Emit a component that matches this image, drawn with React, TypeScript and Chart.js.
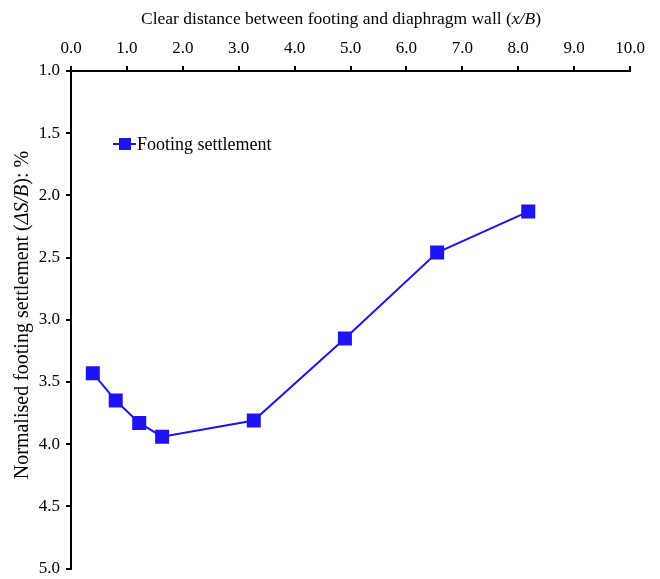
import React, { useEffect, useRef } from "react";
import { Chart, registerables } from "chart.js";

Chart.register(...registerables);

const xValues = [0.39, 0.8, 1.22, 1.63, 3.27, 4.9, 6.55, 8.18];
const settlement = [3.43, 3.65, 3.83, 3.94, 3.81, 3.15, 2.46, 2.13];
const seriesLabel = "Footing settlement";
const xTitleParts = [
  { t: "Clear distance between footing and diaphragm wall (", i: false },
  { t: "x/B", i: true },
  { t: ")", i: false },
];
const yTitleParts = [
  { t: "Normalised footing settlement (", i: false },
  { t: "\u0394S/B", i: true },
  { t: "): %", i: false },
];

const BLUE = "#1E14F2";
const FONT = "'Liberation Serif', 'Times New Roman', serif";

function drawRich(ctx: CanvasRenderingContext2D, parts: { t: string; i: boolean }[], size: number) {
  const fontFor = (i: boolean) => `${i ? "italic " : ""}${size}px ${FONT}`;
  let total = 0;
  for (const p of parts) {
    ctx.font = fontFor(p.i);
    total += ctx.measureText(p.t).width;
  }
  let x = -total / 2;
  for (const p of parts) {
    ctx.font = fontFor(p.i);
    ctx.fillText(p.t, x, 0);
    x += ctx.measureText(p.t).width;
  }
}

const decorPlugin = {
  id: "decor",
  afterDraw(chart: any) {
    const ctx: CanvasRenderingContext2D = chart.ctx;
    const area = chart.chartArea;
    ctx.save();
    ctx.fillStyle = "#000";
    ctx.textBaseline = "middle";
    ctx.textAlign = "left";
    // x title
    ctx.save();
    ctx.translate(341, 19);
    drawRich(ctx, xTitleParts, 17.5);
    ctx.restore();
    // y title
    ctx.save();
    ctx.translate(23, 315);
    ctx.rotate(-Math.PI / 2);
    drawRich(ctx, yTitleParts, 20);
    ctx.restore();
    // legend
    const lx = area.left + 42;
    const ly = area.top + 73;
    ctx.strokeStyle = BLUE;
    ctx.lineWidth = 2;
    ctx.beginPath();
    ctx.moveTo(lx, ly);
    ctx.lineTo(lx + 23, ly);
    ctx.stroke();
    ctx.fillStyle = BLUE;
    ctx.fillRect(lx + 6, ly - 6, 12, 12);
    ctx.fillStyle = "#000";
    ctx.font = `18px ${FONT}`;
    ctx.fillText(seriesLabel, lx + 24, ly + 1);
    ctx.restore();
  },
};

export default function App() {
  const ref = useRef<HTMLCanvasElement>(null);
  useEffect(() => {
    if (!ref.current) return;
    const chart = new Chart(ref.current, {
      type: "scatter",
      data: {
        datasets: [
          {
            label: seriesLabel,
            data: xValues.map((x, i) => ({ x, y: settlement[i] })),
            showLine: true,
            borderColor: BLUE,
            backgroundColor: BLUE,
            borderWidth: 2,
            pointStyle: "rect",
            pointRadius: 8.5,
            pointHoverRadius: 8.5,
          },
        ],
      },
      options: {
        animation: false,
        responsive: false,
        maintainAspectRatio: false,
        layout: { padding: { left: 0, top: 0, right: 30, bottom: 10 } },
        plugins: { legend: { display: false }, tooltip: { enabled: false } },
        scales: {
          x: {
            type: "linear",
            position: "top",
            min: 0,
            max: 10,
            ticks: {
              stepSize: 1,
              color: "#000",
              font: { family: FONT, size: 17 },
              padding: 7,
              callback: (v: any) => Number(v).toFixed(1),
            },
            grid: { drawOnChartArea: false, drawTicks: true, tickLength: 5, color: "#000", lineWidth: 2 },
            border: { display: true, color: "#000", width: 2 },
            afterFit: (s: any) => {
              s.height = 71;
              s.paddingLeft = 0;
              s.paddingRight = 0;
            },
          },
          y: {
            type: "linear",
            reverse: true,
            min: 1,
            max: 5,
            ticks: {
              stepSize: 0.5,
              color: "#000",
              font: { family: FONT, size: 17 },
              padding: 6,
              callback: (v: any) => Number(v).toFixed(1),
            },
            grid: { drawOnChartArea: false, drawTicks: true, tickLength: 5, color: "#000", lineWidth: 2 },
            border: { display: true, color: "#000", width: 2 },
            afterFit: (s: any) => {
              s.width = 71;
              s.paddingTop = 0;
              s.paddingBottom = 0;
            },
          },
        },
      },
      plugins: [decorPlugin],
    });
    return () => chart.destroy();
  }, []);
  return (
    <div style={{ position: "fixed", left: 0, top: 0, width: 660, height: 579, background: "#fff" }}>
      <canvas ref={ref} width={660} height={579} style={{ width: 660, height: 579 }} />
    </div>
  );
}
